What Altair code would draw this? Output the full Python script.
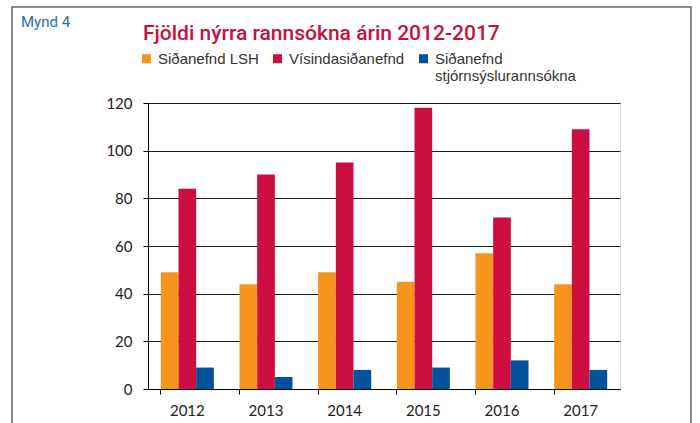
import altair as alt
import pandas as pd

years = ["2012", "2013", "2014", "2015", "2016", "2017"]
series_names = ["Siðanefnd LSH", "Vísindasiðanefnd", "Siðanefnd stjórnsýslurannsókna"]
lsh = [49, 44, 49, 45, 57, 44]
visinda = [84, 90, 95, 118, 72, 109]
stjorn = [9, 5, 8, 9, 12, 8]
colors = ["#F7941E", "#CC0E40", "#00529C"]
y_ticks = [0, 20, 40, 60, 80, 100, 120]
title_text = "Fjöldi nýrra rannsókna árin 2012-2017"
fig_label = "Mynd 4"

rows = []
for s, vals in zip(series_names, [lsh, visinda, stjorn]):
    for y, v in zip(years, vals):
        rows.append({"year": y, "series": s, "value": v})
df = pd.DataFrame(rows)

W, H = 472, 286

label_expr = ("datum.label == 'Siðanefnd stjórnsýslurannsókna' ? "
              "['Siðanefnd', 'stjórnsýslurannsókna'] : [datum.label, ' ']")

bars = alt.Chart(df).mark_bar().encode(
    x=alt.X("year:N", sort=years, title=None,
            scale=alt.Scale(paddingInner=0.326, paddingOuter=0.163),
            axis=alt.Axis(labelAngle=0, bandPosition=0, tickSize=5, tickColor="#000",
                          domainColor="#000", labelFont="Lato", labelFontSize=15,
                          labelColor="#222", labelPadding=9, grid=False)),
    xOffset=alt.XOffset("series:N", sort=series_names,
                        scale=alt.Scale(paddingInner=0, paddingOuter=0)),
    y=alt.Y("value:Q", title=None,
            scale=alt.Scale(domain=[0, 120], nice=False),
            axis=alt.Axis(values=y_ticks, tickSize=5, tickColor="#000", domainColor="#000",
                          gridColor="#1a1a1a", gridWidth=1, labelFont="Lato",
                          labelFontSize=15, labelColor="#222", labelPadding=11)),
    color=alt.Color("series:N", sort=series_names,
                    scale=alt.Scale(domain=series_names, range=colors),
                    legend=alt.Legend(title=None, orient="none", direction="horizontal",
                                      legendX=-9, legendY=-52,
                                      symbolType="square",
                                      symbolSize=81, symbolStrokeWidth=0,
                                      labelFont="Liberation Sans", labelFontSize=15,
                                      labelColor="#333", labelOffset=4, columnPadding=11,
                                      labelLimit=300,
                                      labelExpr=label_expr)),
)

one = alt.Data(values=[{"a": 1}])

frame = alt.Chart(one).mark_rect(fillOpacity=0, stroke="#666666", strokeWidth=1.5).encode(
    x=alt.value(-136), x2=alt.value(543), y=alt.value(-96), y2=alt.value(340)
)
title = alt.Chart(one).mark_text(align="left", baseline="alphabetic", font="Roboto",
                                 fontSize=21, fontWeight=500, color="#C8103E").encode(
    x=alt.value(-5), y=alt.value(-63), text=alt.value(title_text)
)
mynd = alt.Chart(one).mark_text(align="left", baseline="alphabetic", font="Roboto",
                                fontSize=15, color="#2A6EB5").encode(
    x=alt.value(-127), y=alt.value(-76), text=alt.value(fig_label)
)

chart = alt.layer(bars, frame, title, mynd).properties(
    width=W, height=H,
    autosize=alt.AutoSizeParams(type="none"),
    padding={"left": 148, "top": 103, "right": 80, "bottom": 34},
).configure_view(stroke=None).configure(background="white")

chart.save("out.html", embed_options={"renderer": "svg", "actions": False})
